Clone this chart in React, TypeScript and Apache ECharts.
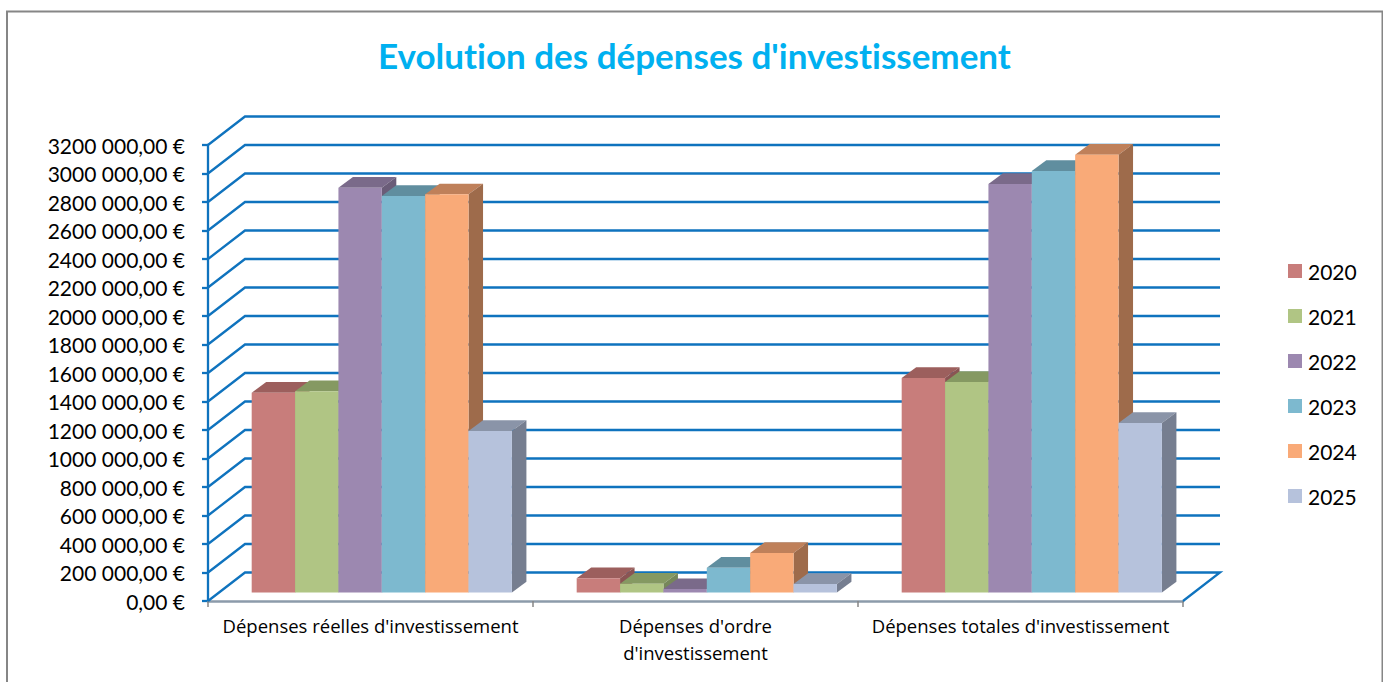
import React, { useEffect, useRef } from "react";
import * as echarts from "echarts";

const categories = ["Dépenses réelles d'investissement", "Dépenses d'ordre\nd'investissement", "Dépenses totales d'investissement"];
const years = ["2020", "2021", "2022", "2023", "2024", "2025"];
const v2020 = [1402000, 100000, 1505000];
const v2021 = [1412000, 62000, 1477000];
const v2022 = [2841000, 24000, 2867000];
const v2023 = [2782000, 174000, 2958000];
const v2024 = [2794000, 277000, 3072000];
const v2025 = [1133000, 60000, 1189000];
const seriesValues = [v2020, v2021, v2022, v2023, v2024, v2025];
const frontColors = ["#C87D7B", "#B0C584", "#9C88B0", "#7DB9CF", "#F9AA78", "#B6C2DC"];
const topColors = ["#9C5F5D", "#859962", "#7A6A8A", "#608E9F", "#BF805A", "#8A94A8"];
const sideColors = ["#8A5453", "#76875A", "#6A5C78", "#527C8C", "#9E6B4B", "#767E90"];
const gridTicks = Array.from({ length: 17 }, (_, i) => i * 200000);

const FONT = "Lato";
const WALL_DX = 37;
const WALL_DY = -28.5;
const BAR_DX = 11.3;
const BAR_DY = -8.5;
const DEPTH_DX = 14.5;
const DEPTH_DY = -10.7;
const BLUE = "#0F73BE";

function fmt(v: number) {
  const th = Math.floor(v / 1000);
  if (v === 0) return "0,00 €";
  const thousands = th === 0 ? "" : String(th);
  return `${thousands} 000,00 €`;
}

export default function App() {
  const ref = useRef<HTMLDivElement>(null);
  useEffect(() => {
    const chart = echarts.init(ref.current!, undefined, { renderer: "svg" });
    const wall = {
      type: "custom",
      name: "wall",
      silent: true,
      data: gridTicks.map((t) => [0, t]),
      encode: { x: 0, y: 1 },
      renderItem: (_p: any, api: any) => {
        const y = api.coord([0, api.value(1)])[1];
        const xLeft = 208;
        const xRight = 1183;
        const pts: number[][] = [
          [xLeft, y],
          [xLeft + WALL_DX, y + WALL_DY],
          [xRight + WALL_DX, y + WALL_DY],
        ];
        if (api.value(1) === 0) pts.push([xRight, y]);
        return {
          type: "polyline",
          shape: { points: pts },
          style: { stroke: BLUE, lineWidth: 2.3, fill: "none" },
        };
      },
      z: 1,
    };
    const bars = years.map((name, s) => ({
      type: "custom",
      name,
      data: categories.map((c, i) => [c, seriesValues[s][i]]),
      encode: { x: 0, y: 1 },
      itemStyle: { color: frontColors[s] },
      z: 2,
      renderItem: (_p: any, api: any) => {
        const top = api.coord([api.value(0), api.value(1)]);
        const base = api.coord([api.value(0), 0]);
        const w = api.size([1, 0])[0] * 0.13345;
        const x0 = top[0] + BAR_DX + (s - 3) * w;
        const x1 = x0 + w;
        const yt = top[1] + BAR_DY;
        const yb = base[1] + BAR_DY;
        return {
          type: "group",
          children: [
            {
              type: "polygon",
              shape: { points: [[x0, yt], [x1, yt], [x1 + DEPTH_DX, yt + DEPTH_DY], [x0 + DEPTH_DX, yt + DEPTH_DY]] },
              style: { fill: topColors[s] },
            },
            {
              type: "polygon",
              shape: { points: [[x1, yt], [x1 + DEPTH_DX, yt + DEPTH_DY], [x1 + DEPTH_DX, yb + DEPTH_DY], [x1, yb]] },
              style: { fill: sideColors[s] },
            },
            {
              type: "rect",
              shape: { x: x0, y: yt, width: w, height: yb - yt },
              style: { fill: frontColors[s] },
            },
          ],
        };
      },
    }));
    chart.setOption({
      animation: false,
      backgroundColor: "#fff",
      title: {
        text: "Evolution des dépenses d'investissement",
        left: 373,
        top: 32,
        textStyle: { fontFamily: FONT, fontWeight: "bold", fontSize: 35, color: "#00B0F0" },
      },
      legend: {
        data: years,
        orient: "vertical",
        left: 1283,
        top: 254,
        icon: "rect",
        itemWidth: 14,
        itemHeight: 14,
        itemGap: 21,
        selectedMode: false,
        textStyle: { fontFamily: FONT, fontSize: 21, color: "#000", padding: [0, 0, 0, 1], height: 24, lineHeight: 24 },
      },
      grid: { left: 208, top: 145, width: 975, height: 456, containLabel: false },
      xAxis: {
        type: "category",
        data: categories,
        axisLine: { lineStyle: { color: "#8C9BAA", width: 2.5 } },
        axisTick: { show: true, length: 6, lineStyle: { color: "#868686", width: 1.5 } },
        axisLabel: { interval: 0, margin: 11, fontFamily: "Open Sans", fontSize: 18.5, color: "#000", lineHeight: 27 },
        splitLine: { show: false },
      },
      yAxis: {
        type: "value",
        min: 0,
        max: 3200000,
        interval: 200000,
        axisLine: { show: true, lineStyle: { color: BLUE, width: 2.3 } },
        axisTick: { show: true, length: 6, lineStyle: { color: BLUE, width: 2.3 } },
        axisLabel: { margin: 23, fontFamily: FONT, fontSize: 21, color: "#000", formatter: (v: number) => fmt(v) },
        splitLine: { show: false },
      },
      graphic: [
        {
          type: "rect",
          silent: true,
          shape: { x: 7, y: 11.5, width: 1375.5, height: 700 },
          style: { fill: "none", stroke: "#868686", lineWidth: 2 },
          z: 0,
        },
      ],
      series: [wall, ...bars],
    });
    return () => chart.dispose();
  }, []);
  return <div ref={ref} style={{ position: "absolute", left: 0, top: 0, width: 1383, height: 682, fontVariantLigatures: "none" }} />;
}
